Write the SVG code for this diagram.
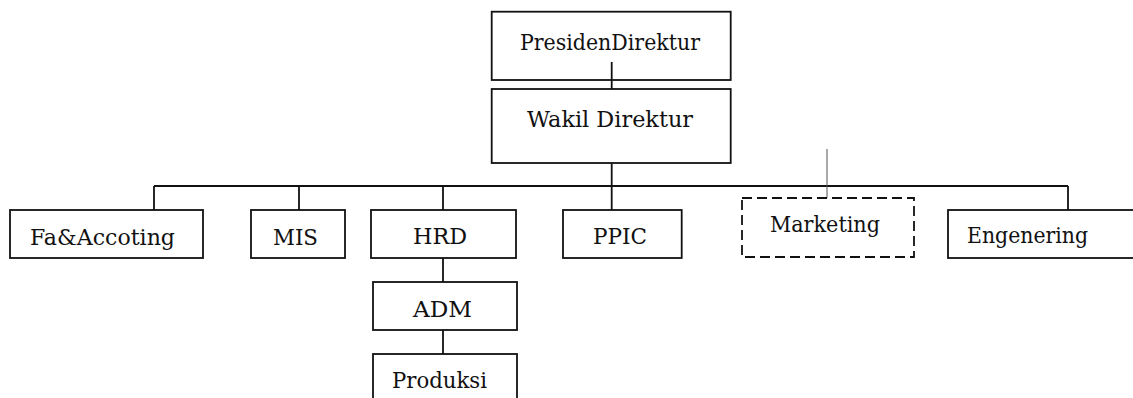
<svg xmlns="http://www.w3.org/2000/svg" width="1133" height="398" viewBox="0 0 1133 398">
<style>
.box{fill:#fff;stroke:#111;stroke-width:1.8}
.dash{fill:#fff;stroke:#111;stroke-width:1.8;stroke-dasharray:10 5}
.line{stroke:#111;stroke-width:1.8;fill:none}
.thin{stroke:#555;stroke-width:1;fill:none}
.t{font-family:"DejaVu Serif","Liberation Serif",serif;font-size:22px;fill:#111}
</style>
<rect width="1133" height="398" fill="#fff"/>
<g id="connectors">
<path class="line" d="M611.7,163 V210 M154,186 H1068 M154,186 V210 M299,186 V210 M443,186 V210 M1068,186 V210 M443,258 V282 M443,330 V354"/>
</g>
<g id="presiden"><rect class="box" x="491.7" y="11.7" width="239" height="68.3"/><text class="t" font-family="DejaVu Serif, serif" x="520" y="50" textLength="180" lengthAdjust="spacingAndGlyphs">PresidenDirektur</text></g>
<g id="conn-top"><path class="line" d="M611.7,62 V89"/></g>
<g id="wakil"><rect class="box" x="491.7" y="89" width="239" height="74"/><text class="t" font-family="DejaVu Serif, serif" x="527" y="127" textLength="166" lengthAdjust="spacingAndGlyphs">Wakil Direktur</text></g>
<g id="fa"><rect class="box" x="10" y="210" width="193" height="48"/><text class="t" font-family="DejaVu Serif, serif" x="30" y="245" textLength="145" lengthAdjust="spacingAndGlyphs">Fa&amp;Accoting</text></g>
<g id="mis"><rect class="box" x="251" y="210" width="94" height="48"/><text class="t" font-family="DejaVu Serif, serif" x="273" y="245" textLength="45" lengthAdjust="spacingAndGlyphs">MIS</text></g>
<g id="hrd"><rect class="box" x="371" y="210" width="145" height="48"/><text class="t" font-family="DejaVu Serif, serif" x="413" y="244" textLength="54" lengthAdjust="spacingAndGlyphs">HRD</text></g>
<g id="ppic"><rect class="box" x="563" y="210" width="118.7" height="48"/><text class="t" font-family="DejaVu Serif, serif" x="593" y="244" textLength="54" lengthAdjust="spacingAndGlyphs">PPIC</text></g>
<g id="marketing-link"><path class="thin" d="M827,149 V198"/></g>
<g id="marketing"><rect class="dash" x="742" y="198" width="172" height="59"/><text class="t" font-family="DejaVu Serif, serif" x="770" y="232" textLength="110" lengthAdjust="spacingAndGlyphs">Marketing</text></g>
<g id="engenering"><rect class="box" x="948" y="210" width="200" height="48"/><text class="t" font-family="DejaVu Serif, serif" x="967" y="243" textLength="121" lengthAdjust="spacingAndGlyphs">Engenering</text></g>
<g id="adm"><rect class="box" x="373" y="282" width="144" height="48"/><text class="t" font-family="DejaVu Serif, serif" x="413" y="317" textLength="59" lengthAdjust="spacingAndGlyphs">ADM</text></g>
<g id="produksi"><rect class="box" x="373" y="354" width="144" height="60"/><text class="t" font-family="DejaVu Serif, serif" x="392" y="388" textLength="95" lengthAdjust="spacingAndGlyphs">Produksi</text></g>
</svg>
